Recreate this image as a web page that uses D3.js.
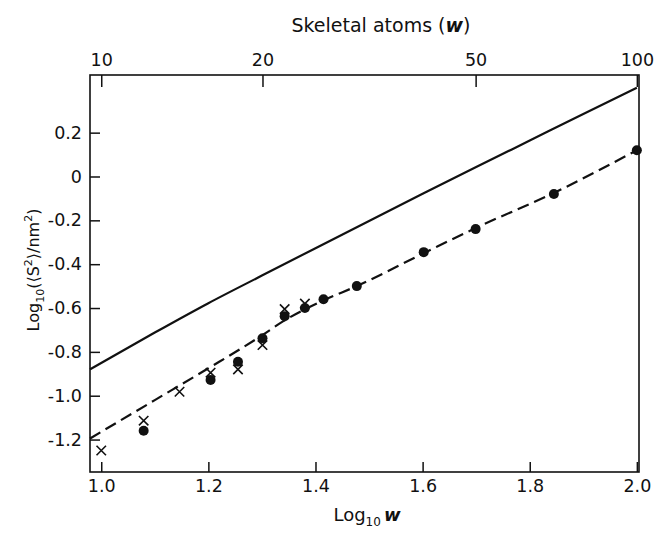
<!DOCTYPE html>
<html>
<head>
<meta charset="utf-8">
<script src="https://cdn.jsdelivr.net/npm/d3@7"></script>
<style>
  body { margin: 0; background: #fff; }
  text { font-family: "DejaVu Sans", sans-serif; fill: #111; }
</style>
</head>
<body>
<script>
// skeletal atoms w, values plotted against log10 w
const circleW = [12, 16, 18, 20, 22, 24, 26, 30, 40, 50, 70, 100];
const circleS = [-1.16, -0.928, -0.845, -0.738, -0.637, -0.60, -0.56, -0.50, -0.345, -0.24, -0.08, 0.12];
const crossW = [10, 12, 14, 16, 18, 20, 22, 24];
const crossS = [-1.25, -1.114, -0.982, -0.895, -0.88, -0.769, -0.605, -0.58];

// theory curves (log10 w, log10 <S2>)
const solidX = [0.979, 1.1, 1.2, 1.3, 1.4, 1.5, 1.6, 1.7, 1.8, 1.9, 2.0];
const solidY = [-0.88, -0.712, -0.578, -0.452, -0.327, -0.203, -0.079, 0.043, 0.164, 0.285, 0.405];
const dashX = [0.979, 1.1, 1.2, 1.3, 1.34, 1.415, 1.477, 1.602, 1.699, 1.845, 2.0];
const dashY = [-1.195, -1.02, -0.875, -0.725, -0.66, -0.565, -0.50, -0.35, -0.235, -0.075, 0.12];

const xTicks = [1.0, 1.2, 1.4, 1.6, 1.8, 2.0];
const xTickLabels = ["1.0", "1.2", "1.4", "1.6", "1.8", "2.0"];
const yTicks = [0.2, 0, -0.2, -0.4, -0.6, -0.8, -1.0, -1.2];
const yTickLabels = ["0.2", "0", "-0.2", "-0.4", "-0.6", "-0.8", "-1.0", "-1.2"];
const topTicks = [10, 20, 50, 100];

const width = 661, height = 533;
const frame = {left: 90, right: 639, top: 75, bottom: 472};

const svg = d3.select("body").append("svg")
    .attr("width", width)
    .attr("height", height);

const xscale = d3.scaleLinear()
    .domain([0.979, 2.004])
    .range([frame.left, frame.right]);
const yscale = d3.scaleLinear()
    .domain([-1.348, 0.463])
    .range([frame.bottom, frame.top]);

// frame
svg.append("rect")
    .attr("x", frame.left).attr("y", frame.top)
    .attr("width", frame.right - frame.left)
    .attr("height", frame.bottom - frame.top)
    .attr("fill", "none").attr("stroke", "#111").attr("stroke-width", 1.6);

// bottom axis
const xb = svg.append("g")
    .attr("transform", "translate(0," + frame.bottom + ")")
    .call(d3.axisBottom(xscale).tickValues(xTicks)
        .tickFormat((d, i) => xTickLabels[i])
        .tickSizeInner(-10).tickSizeOuter(0).tickPadding(8));

// left axis
const yl = svg.append("g")
    .attr("transform", "translate(" + frame.left + ",0)")
    .call(d3.axisLeft(yscale).tickValues(yTicks)
        .tickFormat((d, i) => yTickLabels[i])
        .tickSizeInner(-10).tickSizeOuter(0).tickPadding(8));

// top axis: skeletal atoms
const xt = svg.append("g")
    .attr("transform", "translate(0," + frame.top + ")")
    .call(d3.axisTop(xscale).tickValues(topTicks.map(d => Math.log10(d)))
        .tickFormat((d, i) => topTicks[i])
        .tickSizeInner(-12).tickSizeOuter(0).tickPadding(9));

[xb, yl, xt].forEach(g => {
    g.select(".domain").remove();
    g.selectAll(".tick line").attr("stroke", "#111").attr("stroke-width", 1.5);
    g.selectAll(".tick text")
        .attr("font-family", "DejaVu Sans, sans-serif")
        .attr("font-size", 17.5).attr("fill", "#111");
});

// curves
const solidLine = d3.line()
    .x((d, i) => xscale(solidX[i]))
    .y((d, i) => yscale(solidY[i]))
    .curve(d3.curveMonotoneX);
svg.append("path")
    .attr("d", solidLine(solidX))
    .attr("fill", "none").attr("stroke", "#111").attr("stroke-width", 2.2);

const dashLine = d3.line()
    .x((d, i) => xscale(dashX[i]))
    .y((d, i) => yscale(dashY[i]))
    .curve(d3.curveMonotoneX);
svg.append("path")
    .attr("d", dashLine(dashX))
    .attr("fill", "none").attr("stroke", "#111").attr("stroke-width", 2.2)
    .attr("stroke-dasharray", "12,6");

// crosses
svg.selectAll(".cross")
    .data(crossW)
    .enter().append("path")
    .attr("class", "cross")
    .attr("transform", (d, i) => "translate(" + xscale(Math.log10(d)) + "," + yscale(crossS[i]) + ")")
    .attr("d", d3.symbol(d3.symbolX, 60))
    .attr("fill", "none").attr("stroke", "#111").attr("stroke-width", 1.6);

// filled circles
svg.selectAll(".dot")
    .data(circleW)
    .enter().append("circle")
    .attr("class", "dot")
    .attr("cx", d => xscale(Math.log10(d)))
    .attr("cy", (d, i) => yscale(circleS[i]))
    .attr("r", 5)
    .attr("fill", "#111");

// titles
const topTitle = svg.append("text")
    .attr("x", 381).attr("y", 32)
    .attr("text-anchor", "middle")
    .attr("font-size", 19);
topTitle.append("tspan").text("Skeletal atoms (");
topTitle.append("tspan").attr("font-style", "italic").attr("font-weight", "bold").text("w");
topTitle.append("tspan").text(")");

const bottomTitle = svg.append("text")
    .attr("x", 367).attr("y", 521)
    .attr("text-anchor", "middle")
    .attr("font-size", 18);
bottomTitle.append("tspan").text("Log");
bottomTitle.append("tspan").attr("font-size", 12).attr("dy", 5).text("10");
bottomTitle.append("tspan").attr("dy", -5).attr("dx", 3)
    .attr("font-style", "italic").attr("font-weight", "bold").text("w");

const ylab = svg.append("text")
    .attr("transform", "translate(39,270) rotate(-90)")
    .attr("text-anchor", "middle")
    .attr("font-size", 16);
ylab.append("tspan").text("Log");
ylab.append("tspan").attr("font-size", 11).attr("dy", 5).text("10");
ylab.append("tspan").attr("dy", -5).text("(⟨S");
ylab.append("tspan").attr("font-size", 11).attr("dy", -7).text("2");
ylab.append("tspan").attr("dy", 7).text("⟩/nm");
ylab.append("tspan").attr("font-size", 11).attr("dy", -7).text("2");
ylab.append("tspan").attr("dy", 7).text(")");
</script>
</body>
</html>
